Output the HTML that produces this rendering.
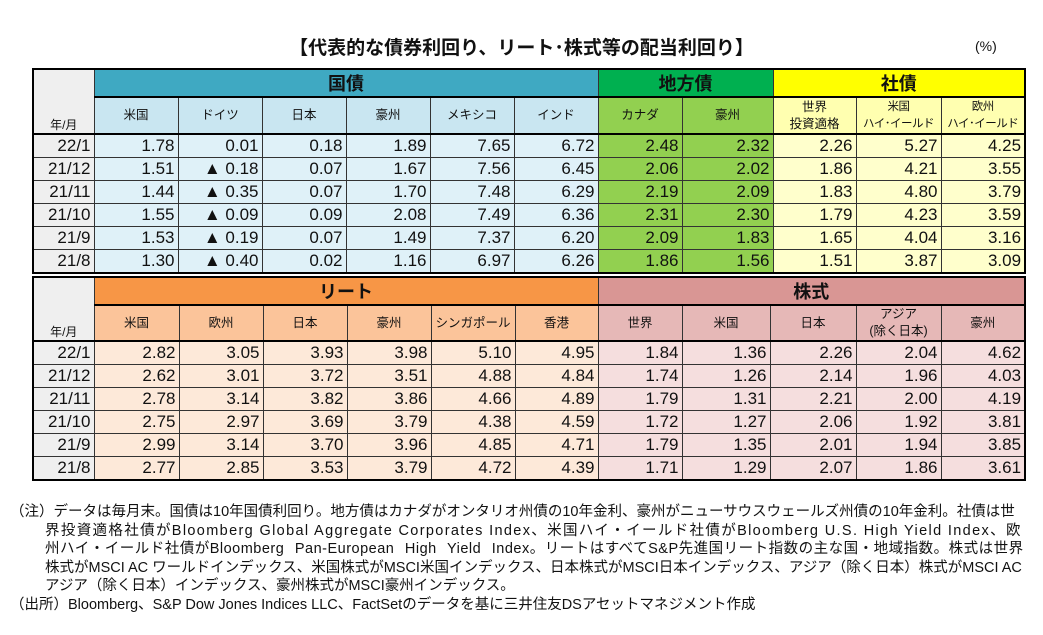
<!DOCTYPE html>
<html><head><meta charset="utf-8"><style>
body{margin:0;width:1043px;height:635px;background:#fff;font-family:"Liberation Sans","Noto Sans CJK JP",sans-serif;position:relative;overflow:hidden;color:#111}
.title{position:absolute;left:0;width:1043px;top:33px;text-align:center;font-size:19px;font-weight:bold}
.pct{position:absolute;left:975px;top:38px;font-size:14px}
table{position:absolute;left:32px;border-collapse:collapse;table-layout:fixed;border:2px solid #000}
td{border:1px solid #333;padding:0 4px;overflow:hidden;white-space:nowrap}
.g{height:25px;text-align:center;font-size:18px;font-weight:bold;border-bottom:2px solid #000}
.s{text-align:center;font-size:12.5px;line-height:17px;border-bottom:2px solid #000}
.s2{font-size:11.5px;letter-spacing:-0.5px;padding:0 1px}
.d td{height:22px;font-size:17px;text-align:right;padding-right:3px}
.lab{background:#efefef;text-align:right}
.lh{background:#efefef;font-size:12px;vertical-align:bottom;text-align:center;border-bottom:2px solid #000}
.bl1{background:#3fa9c2}.bl2{background:#c9e6f1}.bl3{background:#dff1f8}
.gr1{background:#00b050}.gr2,.gr3{background:#92d050}
.ye1{background:#ffff00}.ye2{background:#ffffb0}.ye3{background:#ffffcc}
.or1{background:#f79646}.or2{background:#fbc49a}.or3{background:#fde9d9}
.pk1{background:#d99694}.pk2{background:#e6b8b7}.pk3{background:#f5dede}
.note{position:absolute;left:10px;top:503px;font-size:14.5px;line-height:18.5px;width:1040px;white-space:nowrap}
.note .i{padding-left:35px}
</style></head><body>
<div class="title">【代表的な債券利回り、リート･株式等の配当利回り】</div>
<div class="pct">(%)</div>
<table style="top:68px;width:993px">
<colgroup><col style="width:61px"><col style="width:84px"><col style="width:84px"><col style="width:84px"><col style="width:84px"><col style="width:84px"><col style="width:84px"><col style="width:84px"><col style="width:91px"><col style="width:83px"><col style="width:85px"><col style="width:84px"></colgroup>
<tr><td class="lh" rowspan="2" style="height:62px">年/月</td><td class="g bl1" colspan="6">国債</td><td class="g gr1" colspan="2">地方債</td><td class="g ye1" colspan="3">社債</td></tr>
<tr style="height:37px"><td class="s bl2">米国</td><td class="s bl2">ドイツ</td><td class="s bl2">日本</td><td class="s bl2">豪州</td><td class="s bl2">メキシコ</td><td class="s bl2">インド</td><td class="s gr2">カナダ</td><td class="s gr2">豪州</td><td class="s ye2">世界<br>投資適格</td><td class="s s2 ye2">米国<br>ハイ･イールド</td><td class="s s2 ye2">欧州<br>ハイ･イールド</td></tr>
<tr class="d"><td class="lab">22/1</td><td class="bl3">1.78</td><td class="bl3">0.01</td><td class="bl3">0.18</td><td class="bl3">1.89</td><td class="bl3">7.65</td><td class="bl3">6.72</td><td class="gr3">2.48</td><td class="gr3">2.32</td><td class="ye3">2.26</td><td class="ye3">5.27</td><td class="ye3">4.25</td></tr>
<tr class="d"><td class="lab">21/12</td><td class="bl3">1.51</td><td class="bl3">▲ 0.18</td><td class="bl3">0.07</td><td class="bl3">1.67</td><td class="bl3">7.56</td><td class="bl3">6.45</td><td class="gr3">2.06</td><td class="gr3">2.02</td><td class="ye3">1.86</td><td class="ye3">4.21</td><td class="ye3">3.55</td></tr>
<tr class="d"><td class="lab">21/11</td><td class="bl3">1.44</td><td class="bl3">▲ 0.35</td><td class="bl3">0.07</td><td class="bl3">1.70</td><td class="bl3">7.48</td><td class="bl3">6.29</td><td class="gr3">2.19</td><td class="gr3">2.09</td><td class="ye3">1.83</td><td class="ye3">4.80</td><td class="ye3">3.79</td></tr>
<tr class="d"><td class="lab">21/10</td><td class="bl3">1.55</td><td class="bl3">▲ 0.09</td><td class="bl3">0.09</td><td class="bl3">2.08</td><td class="bl3">7.49</td><td class="bl3">6.36</td><td class="gr3">2.31</td><td class="gr3">2.30</td><td class="ye3">1.79</td><td class="ye3">4.23</td><td class="ye3">3.59</td></tr>
<tr class="d"><td class="lab">21/9</td><td class="bl3">1.53</td><td class="bl3">▲ 0.19</td><td class="bl3">0.07</td><td class="bl3">1.49</td><td class="bl3">7.37</td><td class="bl3">6.20</td><td class="gr3">2.09</td><td class="gr3">1.83</td><td class="ye3">1.65</td><td class="ye3">4.04</td><td class="ye3">3.16</td></tr>
<tr class="d"><td class="lab">21/8</td><td class="bl3">1.30</td><td class="bl3">▲ 0.40</td><td class="bl3">0.02</td><td class="bl3">1.16</td><td class="bl3">6.97</td><td class="bl3">6.26</td><td class="gr3">1.86</td><td class="gr3">1.56</td><td class="ye3">1.51</td><td class="ye3">3.87</td><td class="ye3">3.09</td></tr>
</table>
<table style="top:276px;width:993px">
<colgroup><col style="width:61px"><col style="width:85px"><col style="width:84px"><col style="width:84px"><col style="width:84px"><col style="width:84px"><col style="width:83px"><col style="width:84px"><col style="width:88px"><col style="width:86px"><col style="width:85px"><col style="width:84px"></colgroup>
<tr><td class="lh" rowspan="2" style="height:62px">年/月</td><td class="g or1" colspan="6">リート</td><td class="g pk1" colspan="5">株式</td></tr>
<tr style="height:36px"><td class="s or2">米国</td><td class="s or2">欧州</td><td class="s or2">日本</td><td class="s or2">豪州</td><td class="s or2">シンガポール</td><td class="s or2">香港</td><td class="s pk2">世界</td><td class="s pk2">米国</td><td class="s pk2">日本</td><td class="s pk2">アジア<br>(除く日本)</td><td class="s pk2">豪州</td></tr>
<tr class="d"><td class="lab">22/1</td><td class="or3">2.82</td><td class="or3">3.05</td><td class="or3">3.93</td><td class="or3">3.98</td><td class="or3">5.10</td><td class="or3">4.95</td><td class="pk3">1.84</td><td class="pk3">1.36</td><td class="pk3">2.26</td><td class="pk3">2.04</td><td class="pk3">4.62</td></tr>
<tr class="d"><td class="lab">21/12</td><td class="or3">2.62</td><td class="or3">3.01</td><td class="or3">3.72</td><td class="or3">3.51</td><td class="or3">4.88</td><td class="or3">4.84</td><td class="pk3">1.74</td><td class="pk3">1.26</td><td class="pk3">2.14</td><td class="pk3">1.96</td><td class="pk3">4.03</td></tr>
<tr class="d"><td class="lab">21/11</td><td class="or3">2.78</td><td class="or3">3.14</td><td class="or3">3.82</td><td class="or3">3.86</td><td class="or3">4.66</td><td class="or3">4.89</td><td class="pk3">1.79</td><td class="pk3">1.31</td><td class="pk3">2.21</td><td class="pk3">2.00</td><td class="pk3">4.19</td></tr>
<tr class="d"><td class="lab">21/10</td><td class="or3">2.75</td><td class="or3">2.97</td><td class="or3">3.69</td><td class="or3">3.79</td><td class="or3">4.38</td><td class="or3">4.59</td><td class="pk3">1.72</td><td class="pk3">1.27</td><td class="pk3">2.06</td><td class="pk3">1.92</td><td class="pk3">3.81</td></tr>
<tr class="d"><td class="lab">21/9</td><td class="or3">2.99</td><td class="or3">3.14</td><td class="or3">3.70</td><td class="or3">3.96</td><td class="or3">4.85</td><td class="or3">4.71</td><td class="pk3">1.79</td><td class="pk3">1.35</td><td class="pk3">2.01</td><td class="pk3">1.94</td><td class="pk3">3.85</td></tr>
<tr class="d"><td class="lab">21/8</td><td class="or3">2.77</td><td class="or3">2.85</td><td class="or3">3.53</td><td class="or3">3.79</td><td class="or3">4.72</td><td class="or3">4.39</td><td class="pk3">1.71</td><td class="pk3">1.29</td><td class="pk3">2.07</td><td class="pk3">1.86</td><td class="pk3">3.61</td></tr>
</table>
<div class="note">
<div>（注）データは毎月末。国債は10年国債利回り。地方債はカナダがオンタリオ州債の10年金利、豪州がニューサウスウェールズ州債の10年金利。社債は世</div>
<div class="i" style="letter-spacing:1.35px">界投資適格社債がBloomberg Global Aggregate Corporates Index、米国ハイ・イールド社債がBloomberg U.S. High Yield Index、欧</div>
<div class="i" style="word-spacing:6px;letter-spacing:0.5px">州ハイ・イールド社債がBloomberg Pan-European High Yield Index。リートはすべてS&amp;P先進国リート指数の主な国・地域指数。株式は世界</div>
<div class="i">株式がMSCI AC ワールドインデックス、米国株式がMSCI米国インデックス、日本株式がMSCI日本インデックス、アジア（除く日本）株式がMSCI AC</div>
<div class="i">アジア（除く日本）インデックス、豪州株式がMSCI豪州インデックス。</div>
<div>（出所）Bloomberg、S&amp;P Dow Jones Indices LLC、FactSetのデータを基に三井住友DSアセットマネジメント作成</div>
</div>
</body></html>
